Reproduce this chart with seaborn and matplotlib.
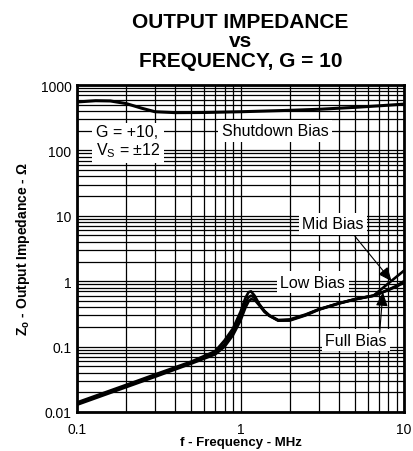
import numpy as np
import pandas as pd
import matplotlib
matplotlib.use("Agg")
import matplotlib.pyplot as plt
import seaborn as sns
from matplotlib.ticker import LogLocator, FixedLocator, FixedFormatter, NullFormatter

# ---------------- data ----------------
shutdown_freq = [0.1, 0.13, 0.16, 0.2, 0.25, 0.3, 0.4, 0.6, 1.0, 2.0, 3.0, 5.0, 7.0, 10.0]
shutdown_z = [550, 575, 570, 520, 440, 390, 378, 380, 390, 410, 425, 455, 480, 510]

bias_freq = [0.1, 0.2, 0.3, 0.5, 0.7, 0.8, 0.9, 1.0, 1.07, 1.12, 1.16, 1.22, 1.3, 1.4,
             1.5, 1.7, 2.0, 2.5, 3.0, 4.0, 5.0, 6.0, 6.5, 7.0, 8.0, 9.0, 10.0]
low_bias_z = [0.0140, 0.026, 0.0375, 0.059, 0.085, 0.125, 0.19, 0.34, 0.55, 0.68, 0.70, 0.60,
              0.45, 0.35, 0.30, 0.255, 0.26, 0.31, 0.37, 0.46, 0.53, 0.58, 0.60, 0.64, 0.74, 0.85, 1.0]
mid_bias_z = [0.0135, 0.025, 0.036, 0.057, 0.080, 0.11, 0.17, 0.29, 0.46, 0.57, 0.60, 0.56,
              0.44, 0.35, 0.30, 0.25, 0.255, 0.305, 0.37, 0.46, 0.53, 0.58, 0.60, 0.70, 0.92, 1.17, 1.45]
full_bias_z = [0.0129, 0.024, 0.0345, 0.055, 0.076, 0.10, 0.15, 0.25, 0.39, 0.49, 0.53, 0.52,
               0.43, 0.34, 0.295, 0.25, 0.25, 0.30, 0.365, 0.455, 0.525, 0.575, 0.60, 0.64, 0.73, 0.83, 0.95]

x_ticks = [0.1, 1, 10]
x_tick_labels = ["0.1", "1", "10"]
y_ticks = [0.01, 0.1, 1, 10, 100, 1000]
y_tick_labels = ["0.01", "0.1", "1", "10", "100", "1000"]

# ---------------- style ----------------
sns.set_theme(style="white")
plt.rcParams["font.family"] = ["Liberation Sans", "DejaVu Sans"]
plt.rcParams["mathtext.fontset"] = "custom"
plt.rcParams["mathtext.rm"] = "Liberation Sans"
plt.rcParams["mathtext.bf"] = "Liberation Sans:bold"
plt.rcParams["mathtext.it"] = "Liberation Sans:italic"

fig = plt.figure(figsize=(4.13, 4.52), dpi=100)
ax = fig.add_axes([77 / 413, 1 - 413 / 452, (404 - 77) / 413, (413 - 86) / 452])

line_kw = dict(color="black", linewidth=1.9, legend=False, estimator=None, sort=False)
sns.lineplot(x=shutdown_freq, y=shutdown_z, ax=ax, **{**line_kw, "linewidth": 2.2})
for z in (low_bias_z, mid_bias_z, full_bias_z):
    sns.lineplot(x=bias_freq, y=z, ax=ax, **line_kw)

ax.set_xscale("log")
ax.set_yscale("log")
ax.set_xlim(0.1, 10)
ax.set_ylim(0.01, 1000)

ax.xaxis.set_major_locator(FixedLocator(x_ticks))
ax.xaxis.set_major_formatter(FixedFormatter(x_tick_labels))
ax.xaxis.set_minor_locator(LogLocator(base=10, subs=np.arange(2, 10)))
ax.xaxis.set_minor_formatter(NullFormatter())
ax.yaxis.set_major_locator(FixedLocator(y_ticks))
ax.yaxis.set_major_formatter(FixedFormatter(y_tick_labels))
ax.yaxis.set_minor_locator(LogLocator(base=10, subs=np.arange(2, 10)))
ax.yaxis.set_minor_formatter(NullFormatter())

ax.grid(True, which="both", color="black", linewidth=0.9)
ax.set_axisbelow(True)
ax.tick_params(which="both", length=0)
ax.tick_params(axis="x", labelsize=10, pad=7, colors="black")
ax.tick_params(axis="y", labelsize=10, pad=4, colors="black")
for s in ax.spines.values():
    s.set_visible(True)
    s.set_color("black")
    s.set_linewidth(2.0)

ax.set_xlabel("f - Frequency - MHz", fontsize=9.5, fontweight="bold", labelpad=0, color="black")
ax.set_ylabel(r"$\mathbf{Z_o}$ - Output Impedance - Ω", fontsize=10, fontweight="bold",
              labelpad=6, color="black")
ax.set_title("OUTPUT IMPEDANCE\nvs\nFREQUENCY, G = 10", fontsize=15, fontweight="bold",
             linespacing=1.03, pad=14, color="black")

box = dict(facecolor="white", edgecolor="none", pad=2.5)
txt_kw = dict(fontsize=11.5, color="black", bbox=box, zorder=5)
ax.text(0.13, 135, "G = +10,\nV$_\\mathregular{S}$ = ±12", ha="left", va="center",
        linespacing=1.1, **txt_kw)
ax.text(1.63, 200, "Shutdown Bias", ha="center", va="center", **txt_kw)
ax.text(3.68, 7.5, "Mid Bias", ha="center", va="center", **txt_kw)
ax.text(2.77, 0.97, "Low Bias", ha="center", va="center", **txt_kw)
ax.text(5.08, 0.126, "Full Bias", ha="center", va="center", **txt_kw)

arrow = dict(arrowstyle="-|>,head_length=0.7,head_width=0.3", color="black", lw=0.8,
             shrinkA=0, shrinkB=0)
ax.annotate("", xy=(8.4, 1.0), xytext=(5.0, 4.9), arrowprops=arrow, zorder=6)
ax.annotate("", xy=(7.43, 0.68), xytext=(7.1, 0.165), arrowprops=arrow, zorder=6)

fig.savefig("out.png", dpi=100)
